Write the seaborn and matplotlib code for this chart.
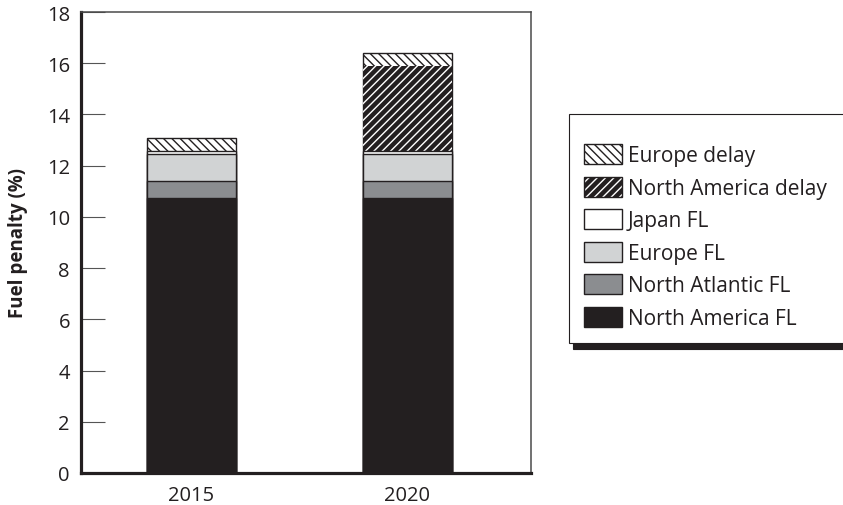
import numpy as np
import pandas as pd
import matplotlib
matplotlib.use("Agg")
import matplotlib.pyplot as plt
import seaborn as sns
from matplotlib.patches import Patch
from matplotlib.legend_handler import HandlerTuple

# ---------------- data ----------------
years = ["2015", "2020"]
north_america_fl = [10.75, 10.75]
north_atlantic_fl = [0.65, 0.65]
europe_fl = [1.07, 1.07]
japan_fl = [0.10, 0.10]
north_america_delay = [0.00, 3.32]
europe_delay = [0.50, 0.52]

series_names = ["North America FL", "North Atlantic FL", "Europe FL",
                "Japan FL", "North America delay", "Europe delay"]
series_values = [north_america_fl, north_atlantic_fl, europe_fl,
                 japan_fl, north_america_delay, europe_delay]
y_ticks = [0, 2, 4, 6, 8, 10, 12, 14, 16, 18]
y_label = "Fuel penalty (%)"

# ---------------- style ----------------
sns.set_style("ticks")
plt.rcParams["font.family"] = ["Open Sans", "DejaVu Sans"]
plt.rcParams["hatch.linewidth"] = 1.0

DARK = "#231f20"
styles = {
    "North America FL": dict(color=DARK, edgecolor=DARK, linewidth=1.0),
    "North Atlantic FL": dict(color="#8b8d90", edgecolor=DARK, linewidth=1.0),
    "Europe FL": dict(color="#d1d3d4", edgecolor=DARK, linewidth=1.0),
    "Japan FL": dict(color="white", edgecolor=DARK, linewidth=1.0),
    "North America delay": dict(color=DARK, edgecolor="white", linewidth=0, hatch="////"),
    "Europe delay": dict(color="white", edgecolor=DARK, linewidth=1.0, hatch="\\\\\\\\"),
}

fig = plt.figure(figsize=(8.43, 5.06), dpi=100)
ax = fig.add_axes([81 / 843, 1 - 474 / 506, 450 / 843, 461 / 506])

cum = np.cumsum(np.array(series_values), axis=0)
handles = {}
for i in range(len(series_names) - 1, -1, -1):
    name = series_names[i]
    df = pd.DataFrame({"year": years, "total": cum[i]})
    st = styles[name]
    sns.barplot(data=df, x="year", y="total", ax=ax, saturation=1,
                width=0.413, errorbar=None, **st)
    handles[name] = ax.containers[-1].patches[-1]

ax.set_xlim(-0.513, 1.575)
ax.set_ylim(0, 18)
ax.set_yticks(y_ticks)
ax.set_xlabel("")
ax.set_ylabel(y_label, fontsize=13.5, fontweight="bold", color=DARK)
ax.yaxis.set_label_coords(-0.118, 0.5)

for side in ["left", "bottom"]:
    ax.spines[side].set_linewidth(2.3)
    ax.spines[side].set_color(DARK)
for side in ["top", "right"]:
    ax.spines[side].set_visible(True)
    ax.spines[side].set_linewidth(1.1)
    ax.spines[side].set_color("#4a4a4a")

ax.tick_params(axis="y", direction="in", length=17, width=0.8, color="#555555",
               pad=8, labelsize=14.5, labelcolor=DARK)
ax.tick_params(axis="x", length=0, pad=9, labelsize=14.5, labelcolor=DARK)

legend_order = ["Europe delay", "North America delay", "Japan FL",
                "Europe FL", "North Atlantic FL", "North America FL"]
leg_handles = []
for name in legend_order:
    h = handles[name]
    if name == "North America delay":
        h = (h, Patch(facecolor="none", edgecolor=DARK, linewidth=1.0))
    leg_handles.append(h)

top = 1 - 115 / 506
leg = ax.legend(leg_handles, legend_order, loc="upper left",
                bbox_to_anchor=(569 / 843, top - 0.3, 300 / 843, 0.3),
                bbox_transform=fig.transFigure, mode="expand",
                borderaxespad=0, fontsize=15, handlelength=1.83,
                handleheight=1.1, labelspacing=0.5, handletextpad=0.3,
                borderpad=0.7, fancybox=False, framealpha=1,
                title=" ", title_fontsize=4,
                shadow=dict(ox=3, oy=-4, facecolor=DARK, edgecolor=DARK, alpha=1),
                handler_map={tuple: HandlerTuple(ndivide=1, pad=0)})
leg.get_frame().set_edgecolor(DARK)
leg.get_frame().set_linewidth(0.8)
for t in leg.get_texts():
    t.set_color(DARK)

fig.savefig("out.png", dpi=100)
